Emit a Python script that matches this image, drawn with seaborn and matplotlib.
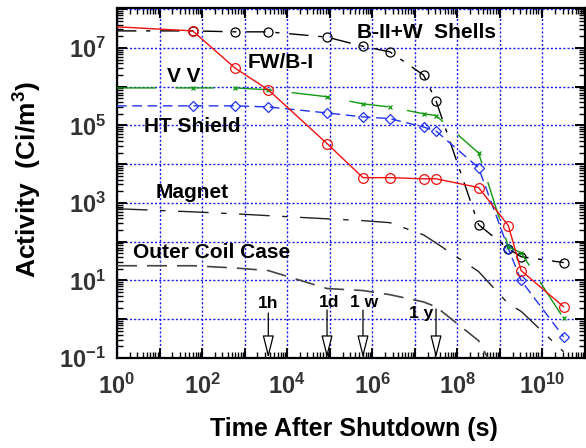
import numpy as np
import pandas as pd
import matplotlib
matplotlib.use("Agg")
import matplotlib.pyplot as plt
import seaborn as sns
from matplotlib.ticker import LogLocator, FuncFormatter, NullFormatter

# ---------------- data ----------------
time_s = [1, 60, 600, 3600, 86400, 604800, 2.6e6, 1.6e7, 3.15e7, 3.15e8, 1.58e9, 3.15e9, 3.15e10]

fw_bi = [3.5e7, 2.75e7, 3.0e6, 8.3e5, 3.4e4, 4.5e3, 4.5e3, 4.2e3, 4.2e3, 2.5e3, 2.6e2, 18, 2.1]
b2_shells = [2.75e7, 2.75e7, 2.6e7, 2.6e7, 1.9e7, 1.1e7, 7.9e6, 2.0e6, 4.3e5, 2.75e2, 66, 41, 29]
vv = [9.3e5, 9.3e5, 9.3e5, 8.3e5, 5.5e5, 3.6e5, 3.0e5, 2.0e5, 1.8e5, 1.95e4, 74, 52, 1.05]
ht_shield = [3.2e5, 3.2e5, 3.2e5, 3.0e5, 2.1e5, 1.66e5, 1.5e5, 9.1e4, 7.2e4, 8.1e3, 66, 10, 0.35]
magnet = [710, 590, 525, 470, 390, 350, 310, 150, 93, 17, 2.5, 1.6, 0.145]
outer_coil = [24, 24, 21, 18, 6.2, 5.5, 4.3, 2.8, 2.1, 0.28, 0.01, 0.005, 0.001]

arrow_times = [3600, 86400, 604800, 3.15e7]
arrow_labels = ["1h", "1d", "1 w", "1 y"]

series_labels = ["B-II+W  Shells", "FW/B-I", "V V", "HT Shield", "Magnet", "Outer Coil Case"]

# ---------------- style ----------------
sns.set_style("ticks")
plt.rcParams['font.family'] = ['Liberation Sans', 'DejaVu Sans']
plt.rcParams['font.weight'] = 'bold'
plt.rcParams['mathtext.fontset'] = 'custom'
plt.rcParams['mathtext.rm'] = 'Liberation Sans:bold'
plt.rcParams['mathtext.it'] = 'Liberation Sans:bold'
plt.rcParams['mathtext.bf'] = 'Liberation Sans:bold'
plt.rcParams['mathtext.default'] = 'rm'

W, H = 586, 448
fig = plt.figure(figsize=(W / 100, H / 100), dpi=100)
L, R, T, B = 117, 585, 8, 358
ax = fig.add_axes([L / W, 1 - B / H, (R - L) / W, (B - T) / H])
ax.set_xscale('log')
ax.set_yscale('log')


def draw(values, **kw):
    d = pd.DataFrame({"t": time_s, "v": values})
    sns.lineplot(data=d, x="t", y="v", ax=ax, errorbar=None, sort=False,
                 markevery=list(range(1, len(time_s))), **kw)


draw(outer_coil, color='#444444', linewidth=1.2, linestyle=(0, (12, 6)), zorder=3)
draw(magnet, color='#222222', linewidth=1.0, linestyle=(0, (22, 9, 4, 9)), zorder=3)
draw(b2_shells, color='black', linewidth=1.0, linestyle=(0, (14, 7, 3, 7)),
     marker='o', markersize=6.5, markerfacecolor='none', markeredgecolor='black',
     markeredgewidth=0.9, zorder=4)
draw(ht_shield, color='#2233ee', linewidth=1.0, linestyle=(0, (7, 4)),
     marker='D', markersize=5, markerfacecolor='none', markeredgecolor='#2233ee',
     markeredgewidth=0.9, zorder=4)
draw(vv, color='#119911', linewidth=1.0, linestyle=(0, (28, 14)),
     marker='x', markersize=3, markeredgecolor='#119911', markeredgewidth=0.9, zorder=5)
draw(fw_bi, color='#ee1111', linewidth=1.0, linestyle='-',
     marker='o', markersize=7, markerfacecolor='none', markeredgecolor='#ee1111',
     markeredgewidth=0.9, zorder=6)

ax.set_xlim(1, 1e11)
ax.set_ylim(0.1, 10 ** 8.03)

# grid
ax.grid(True, which='major', color='#1a1aee', linestyle=(0, (1.5, 1.5)), linewidth=1.0)
ax.set_axisbelow(True)

# ticks
ax.xaxis.set_major_locator(LogLocator(base=10, numticks=20))
ax.yaxis.set_major_locator(LogLocator(base=10, numticks=20))
ax.xaxis.set_minor_locator(LogLocator(base=10, subs=np.arange(2, 10), numticks=50))
ax.yaxis.set_minor_locator(LogLocator(base=10, subs=np.arange(2, 10), numticks=50))
ax.xaxis.set_minor_formatter(NullFormatter())
ax.yaxis.set_minor_formatter(NullFormatter())


def fmt_x(v, pos):
    e = int(round(np.log10(v)))
    return r'$10^{%d}$' % e if e % 2 == 0 else ''


def fmt_y(v, pos):
    e = int(round(np.log10(v)))
    return r'$10^{%d}$' % e if e % 2 == 1 else ''


ax.xaxis.set_major_formatter(FuncFormatter(fmt_x))
ax.yaxis.set_major_formatter(FuncFormatter(fmt_y))
ax.tick_params(which='both', direction='in', top=True, right=True, colors='black',
               labelcolor='#333333', labelsize=17)
ax.tick_params(which='major', length=7, width=1.4, pad=8)
ax.tick_params(axis='x', which='major', pad=11)
ax.tick_params(which='minor', length=4, width=1.0)
for s in ax.spines.values():
    s.set_linewidth(1.6)
    s.set_color('black')

ax.set_xlabel("Time After Shutdown (s)", fontsize=18, fontweight='bold', color='black')
ax.set_ylabel(r"Activity  (Ci/m$^{3}$)", fontsize=19, fontweight='bold', color='black')
ax.xaxis.set_label_coords((354 - L) / (R - L), (B - 417) / (B - T))
ax.yaxis.set_label_coords((44 - L) / (R - L), (B - 180) / (B - T))


def axfrac(px, py):
    return ((px - L) / (R - L), (B - py) / (B - T))


label_pos = [(357, 33), (248, 63), (167, 77), (144, 127), (156, 192), (133, 252)]
for txt, (px, py) in zip(series_labels, label_pos):
    ax.text(*axfrac(px, py), txt, transform=ax.transAxes, fontsize=15, fontweight='bold',
            ha='left', va='center', color='black', zorder=8)

# time markers (arrows)
arrow_text_pos = [(268, 303), (329, 302), (364, 302), (421, 313)]
arrow_tops = [313, 310, 310, 309]
for t, lab, (tx, ty), top in zip(arrow_times, arrow_labels, arrow_text_pos, arrow_tops):
    ytop = 10 ** (7 - (top - 48) / 38.75)
    ax.annotate('', xy=(t, 0.1), xytext=(t, ytop), xycoords='data', textcoords='data',
                arrowprops=dict(arrowstyle='-|>,head_length=1.4,head_width=0.35',
                                facecolor='white', edgecolor='black', linewidth=0.9,
                                shrinkA=0, shrinkB=0), zorder=7, annotation_clip=False)
    ax.text(*axfrac(tx, ty), lab, transform=ax.transAxes, fontsize=12.5, fontweight='bold',
            ha='center', va='center', color='black', zorder=8)

fig.savefig("out.png", dpi=100)
